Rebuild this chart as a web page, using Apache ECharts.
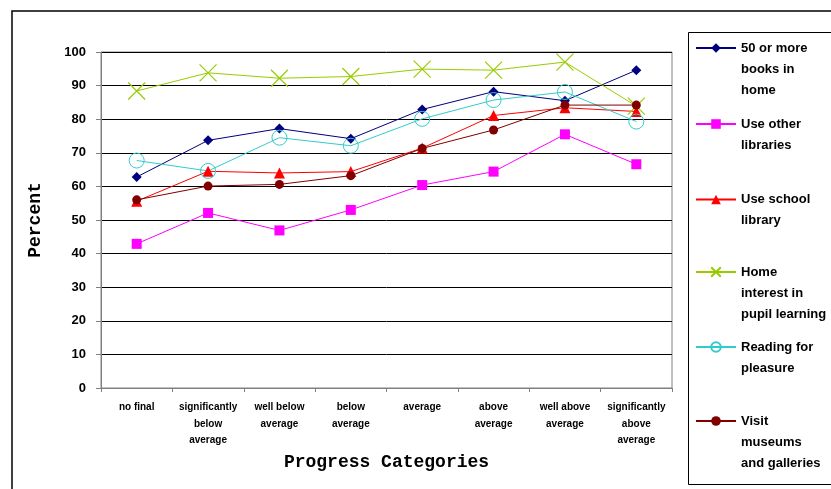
<!DOCTYPE html>
<html>
<head>
<meta charset="utf-8">
<script src="https://cdn.jsdelivr.net/npm/echarts@6/dist/echarts.min.js"></script>
<style>
html,body{margin:0;padding:0;background:#fff;}
#chart{width:831px;height:489px;}
</style>
</head>
<body>
<div id="chart"></div>
<script>
var categories = ["no final", "significantly\nbelow\naverage", "well below\naverage", "below\naverage", "average", "above\naverage", "well above\naverage", "significantly\nabove\naverage"];
var yTicks = [0, 10, 20, 30, 40, 50, 60, 70, 80, 90, 100];

var seriesNames = ["50 or more\nbooks in\nhome", "Use other\nlibraries", "Use school\nlibrary", "Home\ninterest in\npupil learning", "Reading for\npleasure", "Visit\nmuseums\nand galleries"];

var books50 = [62.8, 73.7, 77.2, 74.2, 82.9, 88.2, 85.5, 94.6];
var otherLibraries = [42.9, 52.1, 46.9, 53.0, 60.4, 64.4, 75.5, 66.6];
var schoolLibrary = [55.6, 64.5, 64.0, 64.4, 71.4, 81.1, 83.4, 82.3];
var homeInterest = [88.4, 93.8, 92.2, 92.7, 94.9, 94.6, 97.0, 83.9];
var readingPleasure = [67.7, 64.6, 74.5, 72.1, 80.1, 85.7, 88.1, 79.3];
var visitMuseums = [56.0, 60.1, 60.6, 63.2, 71.3, 76.8, 84.2, 84.2];

var chart = echarts.init(document.getElementById('chart'), null, {renderer: 'canvas'});

function legendFor(idx, iconCenterY) {
  var name = seriesNames[idx];
  var n = name.split('\n').length;
  var lh = 21;
  var h = (2 * n - 1) * lh;
  var prefix = new Array(n).join('\n');
  return {
    show: true,
    data: [name],
    orient: 'vertical',
    left: 695,
    top: iconCenterY - h / 2,
    padding: 0,
    itemWidth: 40,
    itemHeight: 12,
    itemGap: 0,
    selectedMode: false,
    formatter: function (nm) { return prefix + nm; },
    textStyle: {
      fontFamily: 'Liberation Sans, Arial, sans-serif',
      fontWeight: 'bold',
      fontSize: 13,
      color: '#000',
      lineHeight: lh
    }
  };
}

var option = {
  animation: false,
  backgroundColor: '#fff',
  graphic: [
    {type: 'rect', shape: {x: 12, y: 11, width: 900, height: 600}, style: {fill: 'none', stroke: '#000', lineWidth: 1.5}, z: -1},
    {type: 'rect', shape: {x: 688.5, y: 32.5, width: 200, height: 452}, style: {fill: 'none', stroke: '#000', lineWidth: 1}, z: -1}
  ],
  legend: [
    legendFor(0, 48),
    legendFor(1, 124),
    legendFor(2, 199.5),
    legendFor(3, 272),
    legendFor(4, 347),
    legendFor(5, 421)
  ],
  grid: {left: 101, right: 159, top: 52, bottom: 101, show: true, borderColor: '#808080', borderWidth: 1},
  xAxis: {
    type: 'category',
    data: categories,
    boundaryGap: true,
    name: 'Progress Categories',
    nameLocation: 'middle',
    nameGap: 58,
    nameTextStyle: {fontFamily: 'Liberation Mono, Courier New, monospace', fontWeight: 'bold', fontSize: 18, color: '#000'},
    axisLine: {lineStyle: {color: '#808080', width: 1}},
    axisTick: {show: true, alignWithLabel: false, length: 4, lineStyle: {color: '#808080'}},
    axisLabel: {interval: 0, margin: 11, fontSize: 10, lineHeight: 16.5, fontFamily: 'Liberation Sans, Arial, sans-serif', fontWeight: 'bold', color: '#000'},
    splitLine: {show: false}
  },
  yAxis: {
    type: 'value',
    min: yTicks[0],
    max: yTicks[yTicks.length - 1],
    interval: yTicks[1] - yTicks[0],
    name: 'Percent',
    nameLocation: 'middle',
    nameRotate: 90,
    nameGap: 57,
    nameTextStyle: {fontFamily: 'Liberation Mono, Courier New, monospace', fontWeight: 'bold', fontSize: 18, color: '#000'},
    axisLine: {show: true, lineStyle: {color: '#808080', width: 1}},
    axisTick: {show: true, length: 5, lineStyle: {color: '#808080'}},
    axisLabel: {margin: 15, fontSize: 13, fontFamily: 'Liberation Sans, Arial, sans-serif', fontWeight: 'bold', color: '#000'},
    splitLine: {show: true, lineStyle: {color: '#000', width: 1}}
  },
  series: [
    {
      name: seriesNames[0], type: 'line', data: books50,
      symbol: 'diamond', symbolSize: 10,
      itemStyle: {color: '#000080'}, lineStyle: {color: '#000080', width: 1}
    },
    {
      name: seriesNames[1], type: 'line', data: otherLibraries,
      symbol: 'rect', symbolSize: 10,
      itemStyle: {color: '#FF00FF'}, lineStyle: {color: '#FF00FF', width: 1}
    },
    {
      name: seriesNames[2], type: 'line', data: schoolLibrary,
      symbol: 'triangle', symbolSize: 11,
      itemStyle: {color: '#FF0000'}, lineStyle: {color: '#FF0000', width: 1}
    },
    {
      name: seriesNames[3], type: 'line', data: homeInterest,
      symbol: 'path://M0,0L10,10M10,0L0,10', symbolSize: 17,
      itemStyle: {color: 'none', borderColor: '#99CC00', borderWidth: 1.2},
      lineStyle: {color: '#99CC00', width: 1}
    },
    {
      name: seriesNames[4], type: 'line', data: readingPleasure,
      symbol: 'circle', symbolSize: 15,
      itemStyle: {color: 'none', borderColor: '#33CCCC', borderWidth: 1},
      lineStyle: {color: '#33CCCC', width: 1}
    },
    {
      name: seriesNames[5], type: 'line', data: visitMuseums,
      symbol: 'circle', symbolSize: 9,
      itemStyle: {color: '#800000'}, lineStyle: {color: '#800000', width: 1}
    }
  ]
};
chart.setOption(option);
</script>
</body>
</html>
